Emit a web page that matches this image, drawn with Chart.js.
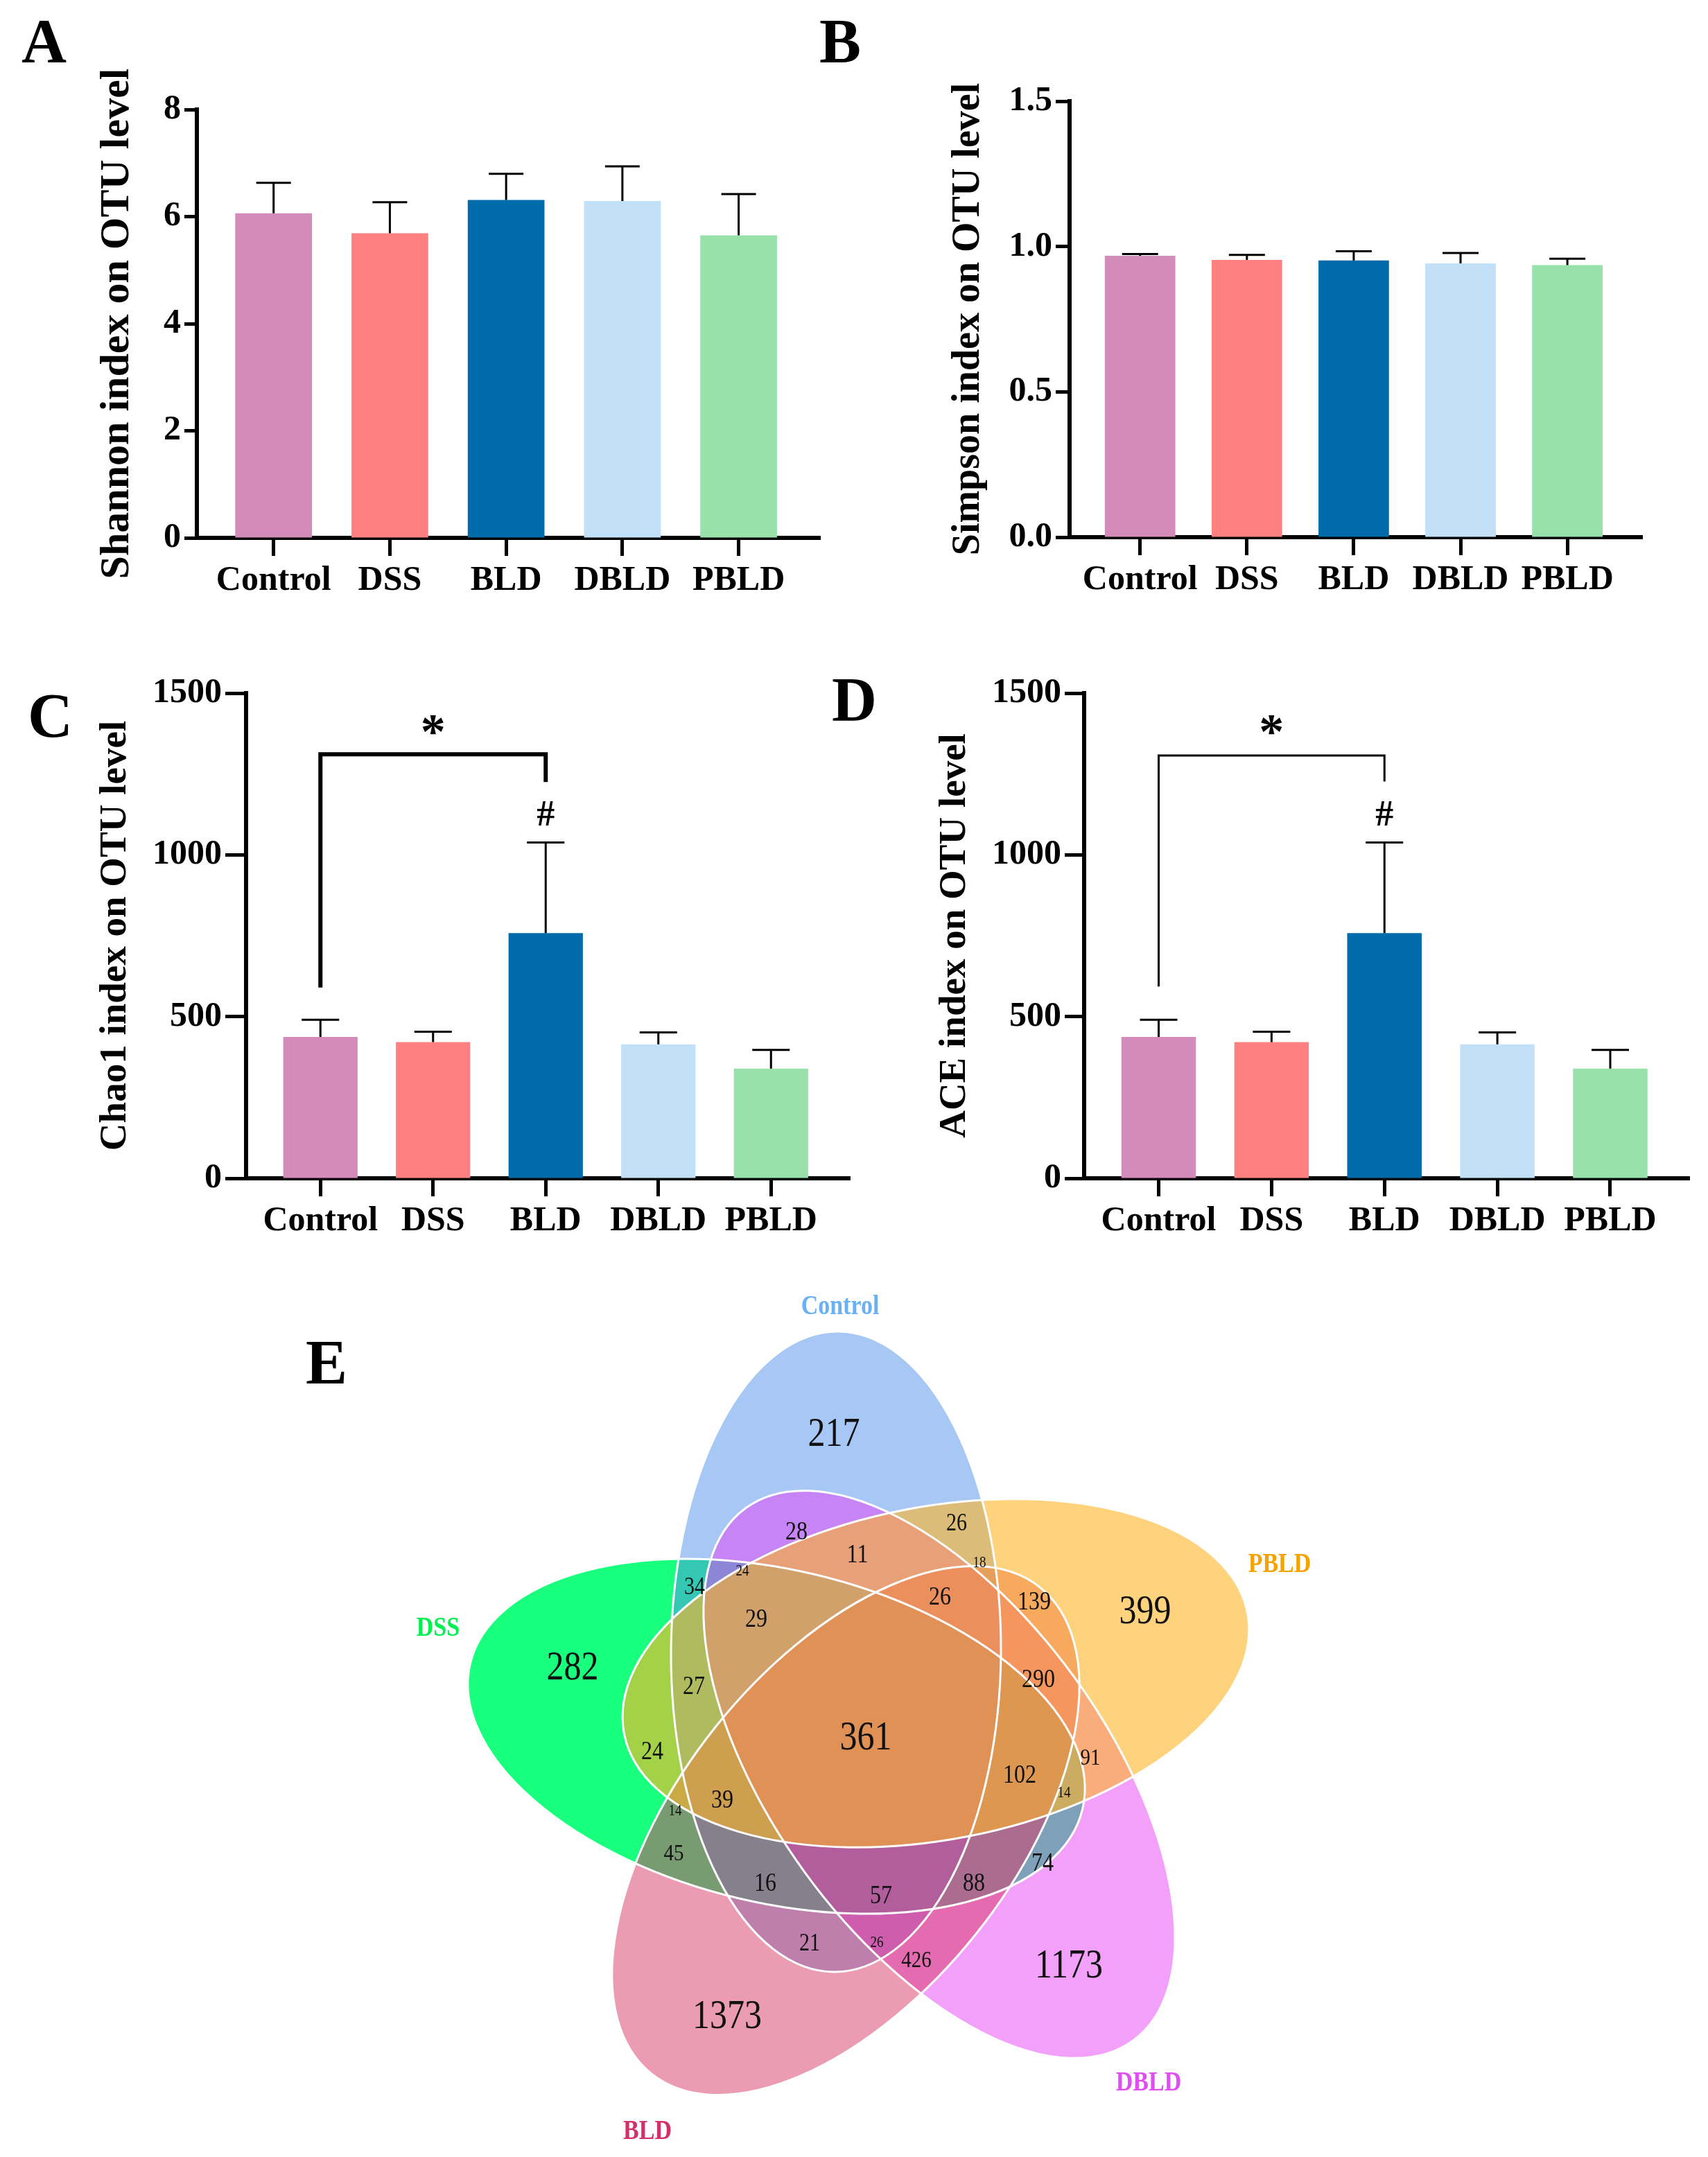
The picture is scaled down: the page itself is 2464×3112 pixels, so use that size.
<!DOCTYPE html>
<html>
<head>
<meta charset="utf-8">
<title>Alpha diversity and Venn</title>
<script src="https://cdn.jsdelivr.net/npm/chart.js@4.4.1/dist/chart.umd.min.js"></script>
<style>
  html, body { margin: 0; padding: 0; background: #fff; }
  body { width: 2464px; height: 3112px; position: relative; overflow: hidden;
         font-family: "Liberation Serif", "Times New Roman", serif; }
  canvas { position: absolute; }
  .letter { position: absolute; font-weight: bold; font-size: 90px; line-height: 1; color: #000; }
</style>
</head>
<body>
<div class="letter" style="left:31px;top:15px">A</div>
<div class="letter" style="left:1182px;top:15px">B</div>
<div class="letter" style="left:40px;top:988px">C</div>
<div class="letter" style="left:1200px;top:965px">D</div>
<div class="letter" style="left:441px;top:1921px">E</div>

<canvas id="chartA" width="1110" height="766" style="left:133px;top:100px"></canvas>
<canvas id="chartB" width="1065" height="775" style="left:1364px;top:90px"></canvas>
<canvas id="chartC" width="1132" height="850" style="left:134px;top:940px"></canvas>
<canvas id="chartD" width="1117" height="850" style="left:1345px;top:940px"></canvas>
<canvas id="venn" width="1440" height="1272" style="left:560px;top:1840px"></canvas>

<script>
// groups
const categories = ['Control', 'DSS', 'BLD', 'DBLD', 'PBLD'];

// alpha diversity, mean and SD
const shannonMean = [6.06, 5.69, 6.31, 6.29, 5.65];
const shannonSD = [0.57, 0.58, 0.49, 0.65, 0.77];
const simpsonMean = [0.968, 0.954, 0.952, 0.942, 0.936];
const simpsonSD = [0.006, 0.017, 0.032, 0.036, 0.022];
const chao1Mean = [437, 421, 758, 414, 339];
const chao1SD = [53, 32, 280, 37, 58];
const aceMean = [437, 421, 758, 414, 339];
const aceSD = [53, 32, 280, 37, 58];

// tick labels
const shannonTicks = [0, 2, 4, 6, 8];
const simpsonTicks = [0, 0.5, 1.0, 1.5];
const richnessTicks = [0, 500, 1000, 1500];

// venn: set names and OTU counts of every region
const vennSets = ['Control', 'DSS', 'PBLD', 'DBLD', 'BLD'];
const vennCounts = [217, 282, 399, 1173, 1373, 361, 28, 26, 11, 24, 18, 34, 26, 139, 29,
                    290, 27, 24, 91, 102, 14, 39, 14, 45, 74, 16, 88, 57, 21, 26, 426];

// ---- styling / layout (not data) ----
const barColors = ['#D38BB9', '#FF8080', '#006BAA', '#C2E0F8', '#98E1AB'];
const serif = '"Liberation Serif", "Times New Roman", serif';

// where each venn count sits, in the venn canvas units
const vennCountPos = [
  [1203, 2071], [826, 2408], [1652, 2327], [1542, 2838], [1049, 2911], [1249, 2509],
  [1149, 2211], [1380, 2199], [1237, 2244], [1071, 2267], [1413, 2255], [1002, 2291],
  [1356, 2305], [1492, 2312], [1091, 2337], [1498, 2424], [1001, 2434], [941, 2528],
  [1573, 2537], [1471, 2562], [1535, 2587], [1042, 2598], [974, 2613], [972, 2675],
  [1504, 2689], [1104, 2718], [1405, 2718], [1271, 2736], [1168, 2805], [1265, 2803],
  [1322, 2829]
];
const vennCountSize = [50, 50, 50, 50, 50, 50, 32, 30, 32, 19, 19, 30, 32, 32, 32,
                       32, 32, 32, 29, 32, 19, 32, 19, 29, 32, 32, 32, 32, 30, 19, 29];
const vennSetPos = [[1212, 1886], [632, 2350], [1846, 2258], [1657, 3006], [934, 3076]];
const vennSetColor = ['#6AB0F5', '#00F050', '#F5A300', '#E24CF5', '#D42F6B'];
const vennTextStretch = 1.18; // the venn text in the figure is drawn a bit tall

// ellipses (drawing order matters for the blended overlaps)
const vennShapes = [
  { cx: 1120, cy: 2505, a: 454, b: 240, rot: 13.4, fill: 'rgba(0,255,112,0.9)' },    // DSS
  { cx: 1206, cy: 2383, a: 462, b: 238, rot: 90.4, fill: 'rgba(79,145,235,0.5)' },   // Control
  { cx: 1355, cy: 2560, a: 475, b: 240, rot: 54, fill: 'rgba(229,65,245,0.5)' },     // DBLD
  { cx: 1220, cy: 2641, a: 449, b: 240, rot: 128.6, fill: 'rgba(215,55,101,0.5)' },  // BLD
  { cx: 1350, cy: 2414, a: 458, b: 240, rot: -11, fill: 'rgba(255,180,38,0.6)' }     // PBLD
];

// whiskers (mean + SD only, with a cap)
const errorBarPlugin = {
  id: 'errorBars',
  afterDatasetsDraw(chart, args, o) {
    const { ctx, scales: { x, y } } = chart;
    const pts = chart.data.datasets[0].data;
    ctx.save();
    ctx.strokeStyle = '#000';
    ctx.lineWidth = o.width;
    o.sd.forEach((s, i) => {
      const px = x.getPixelForValue(pts[i].x);
      const base = y.getPixelForValue(pts[i].y);
      const top = y.getPixelForValue(pts[i].y + s);
      ctx.beginPath();
      ctx.moveTo(px, base);
      ctx.lineTo(px, top);
      ctx.moveTo(px - o.cap, top);
      ctx.lineTo(px + o.cap, top);
      ctx.stroke();
    });
    ctx.restore();
  }
};

// significance bracket with * and #
const bracketPlugin = {
  id: 'bracket',
  afterDatasetsDraw(chart, args, o) {
    if (!o || !o.show) return;
    const { ctx, scales: { x, y } } = chart;
    const x1 = x.getPixelForValue(o.from);
    const x2 = x.getPixelForValue(o.to);
    const yTop = y.getPixelForValue(o.level);
    ctx.save();
    ctx.strokeStyle = '#000';
    ctx.lineWidth = o.width;
    ctx.lineJoin = 'miter';
    ctx.beginPath();
    ctx.moveTo(x1, y.getPixelForValue(o.fromEnd));
    ctx.lineTo(x1, yTop);
    ctx.lineTo(x2, yTop);
    ctx.lineTo(x2, y.getPixelForValue(o.toEnd));
    ctx.stroke();
    ctx.fillStyle = '#000';
    ctx.textAlign = 'center';
    ctx.textBaseline = 'middle';
    ctx.font = 'bold 72px ' + serif;
    ctx.fillText('*', (x1 + x2) / 2, y.getPixelForValue(o.starAt));
    ctx.font = 'bold 52px ' + serif;
    ctx.fillText('#', x2, y.getPixelForValue(o.hashAt));
    ctx.restore();
  }
};

function barChart(id, cfg) {
  return new Chart(document.getElementById(id), {
    type: 'bar',
    data: {
      datasets: [{
        data: cfg.mean.map((v, i) => ({ x: i, y: v })),
        backgroundColor: barColors,
        borderWidth: 0,
        barPercentage: 0.66,
        categoryPercentage: 1
      }]
    },
    options: {
      responsive: false,
      animation: false,
      devicePixelRatio: 1,
      layout: { padding: cfg.pad },
      plugins: {
        legend: { display: false },
        tooltip: { enabled: false },
        errorBars: { sd: cfg.sd, cap: cfg.cap, width: 3 },
        bracket: cfg.bracket || { show: false }
      },
      scales: {
        x: {
          type: 'linear',
          offset: false,
          min: -0.66,
          max: 4.70,
          afterBuildTicks: s => { s.ticks = categories.map((c, i) => ({ value: i })); },
          afterFit: s => { s.height = 90; },
          ticks: {
            callback: v => categories[v],
            color: '#000',
            font: { family: serif, size: 50, weight: 'bold' },
            padding: 6,
            autoSkip: false,
            maxRotation: 0,
            minRotation: 0
          },
          grid: { offset: false, drawOnChartArea: false, drawTicks: true, tickLength: 26, tickWidth: 5, tickColor: '#000' },
          border: { display: true, color: '#000', width: 6 }
        },
        y: {
          min: 0,
          max: cfg.ticks[cfg.ticks.length - 1],
          afterBuildTicks: s => { s.ticks = cfg.ticks.map(v => ({ value: v })); },
          afterFit: s => { s.width = cfg.yWidth; },
          ticks: {
            callback: cfg.fmt,
            color: '#000',
            font: { family: serif, size: 50, weight: 'bold' },
            padding: 5
          },
          grid: { drawOnChartArea: false, drawTicks: true, tickLength: cfg.tickLen, tickWidth: 5, tickColor: '#000' },
          border: { display: true, color: '#000', width: 6 },
          title: {
            display: true,
            text: cfg.title,
            color: '#000',
            font: { family: serif, size: cfg.titleSize, weight: 'bold' },
            padding: 0
          }
        }
      }
    },
    plugins: [errorBarPlugin, bracketPlugin]
  });
}

barChart('chartA', {
  mean: shannonMean, sd: shannonSD, ticks: shannonTicks, fmt: v => String(v),
  title: 'Shannon index on OTU level', titleSize: 60, yWidth: 151, tickLen: 18, cap: 25,
  pad: { top: 58, right: 60, left: 0, bottom: 0 }
});
barChart('chartB', {
  mean: simpsonMean, sd: simpsonSD, ticks: simpsonTicks, fmt: v => v.toFixed(1),
  title: 'Simpson index on OTU level', titleSize: 56, yWidth: 179, tickLen: 20, cap: 26,
  pad: { top: 56, right: 60, left: 0, bottom: 0 }
});
barChart('chartC', {
  mean: chao1Mean, sd: chao1SD, ticks: richnessTicks, fmt: v => String(v),
  title: 'Chao1 index on OTU level', titleSize: 55, yWidth: 221, tickLen: 30, cap: 27,
  pad: { top: 60, right: 40, left: 0, bottom: 0 },
  bracket: { show: true, from: 0, to: 2, level: 1311, fromEnd: 590, toEnd: 1225,
             starAt: 1370, hashAt: 1119, width: 6 }
});
barChart('chartD', {
  mean: aceMean, sd: aceSD, ticks: richnessTicks, fmt: v => String(v),
  title: 'ACE index on OTU level', titleSize: 55, yWidth: 219, tickLen: 28, cap: 27,
  pad: { top: 60, right: 25, left: 0, bottom: 0 },
  bracket: { show: true, from: 0, to: 2, level: 1307, fromEnd: 593, toEnd: 1227,
             starAt: 1370, hashAt: 1119, width: 3 }
});

// venn: ellipses under the points, numbers and set names on top
function tallText(ctx, txt, px, py) {
  ctx.save();
  ctx.translate(px, py);
  ctx.scale(1, vennTextStretch);
  ctx.fillText(txt, 0, 0);
  ctx.restore();
}

const vennPlugin = {
  id: 'vennDraw',
  beforeDatasetsDraw(chart) {
    const { ctx, scales: { x, y } } = chart;
    const geo = vennShapes.map(e => {
      const cx = x.getPixelForValue(e.cx), cy = y.getPixelForValue(e.cy);
      return {
        cx, cy,
        rx: Math.abs(x.getPixelForValue(e.cx + e.a) - cx),
        ry: Math.abs(x.getPixelForValue(e.cx + e.b) - cx),
        rot: e.rot * Math.PI / 180, fill: e.fill
      };
    });
    ctx.save();
    geo.forEach(g => {
      ctx.beginPath();
      ctx.ellipse(g.cx, g.cy, g.rx, g.ry, g.rot, 0, Math.PI * 2);
      ctx.fillStyle = g.fill;
      ctx.fill();
    });
    ctx.strokeStyle = '#fff';
    ctx.lineWidth = 3;
    geo.forEach(g => {
      ctx.beginPath();
      ctx.ellipse(g.cx, g.cy, g.rx, g.ry, g.rot, 0, Math.PI * 2);
      ctx.stroke();
    });
    ctx.restore();
  },
  afterDatasetsDraw(chart) {
    const { ctx } = chart;
    ctx.save();
    ctx.textAlign = 'center';
    ctx.textBaseline = 'middle';
    chart.getDatasetMeta(0).data.forEach((pt, i) => {
      ctx.fillStyle = '#111';
      ctx.font = vennCountSize[i] + 'px ' + serif;
      tallText(ctx, String(vennCounts[i]), pt.x, pt.y);
    });
    chart.getDatasetMeta(1).data.forEach((pt, i) => {
      ctx.fillStyle = vennSetColor[i];
      ctx.font = 'bold 34px ' + serif;
      tallText(ctx, vennSets[i], pt.x, pt.y);
    });
    ctx.restore();
  }
};

new Chart(document.getElementById('venn'), {
  type: 'scatter',
  data: {
    datasets: [
      { data: vennCountPos.map(p => ({ x: p[0], y: p[1] })), pointRadius: 0 },
      { data: vennSetPos.map(p => ({ x: p[0], y: p[1] })), pointRadius: 0 }
    ]
  },
  options: {
    responsive: false,
    animation: false,
    devicePixelRatio: 1,
    layout: { padding: 0 },
    plugins: { legend: { display: false }, tooltip: { enabled: false } },
    scales: {
      x: { type: 'linear', display: false, min: 560, max: 2000 },
      y: { type: 'linear', display: false, min: 1840, max: 3112, reverse: true }
    }
  },
  plugins: [vennPlugin]
});
</script>
</body>
</html>
